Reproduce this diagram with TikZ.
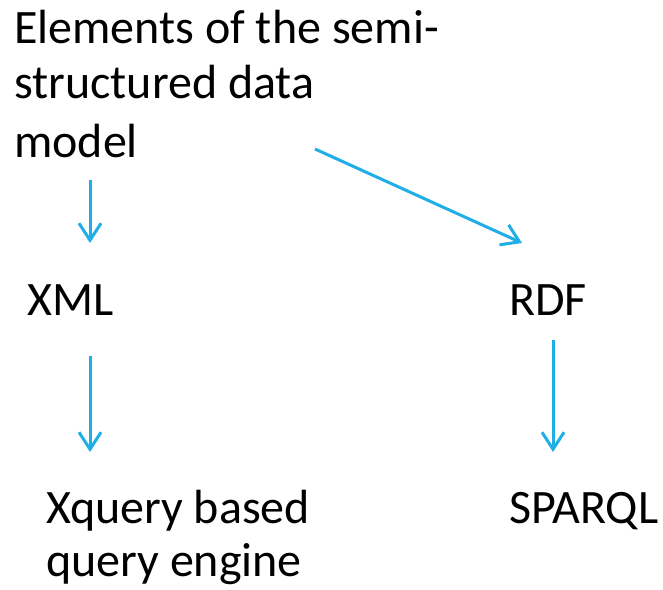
\documentclass[tikz,border=0pt]{standalone}
\usepackage{fontspec}
\setmainfont{Carlito}
\usetikzlibrary{arrows.meta}
\definecolor{arrowblue}{HTML}{1FAEE6}
\tikzset{
  lbl/.style={anchor=base west,inner sep=0pt,font=\fontsize{48}{56}\selectfont,text=black},
  conn/.style={draw=arrowblue,line width=3pt,-{Straight Barb[length=17pt,width=22pt,line width=3pt]}}
}
\begin{document}
\begin{tikzpicture}[x=1pt,y=-1pt]
\useasboundingbox[fill=white] (0,0) rectangle (663,589);
\node[lbl] (t1) at (14,43) {Elements of the semi-};
\node[lbl] (t2) at (14,98) {structured data};
\node[lbl] (t3) at (14,157) {model};
\node[lbl] (xml) at (27,315) {XML};
\node[lbl] (rdf) at (509,315) {RDF};
\node[lbl] (xq1) at (46,523) {Xquery based};
\node[lbl] (xq2) at (46,576) {query engine};
\node[lbl] (sparql) at (509,523) {SPARQL};
\coordinate (a1s) at (90,180);
\coordinate (a1e) at (90,243);
\coordinate (a2s) at (315,149);
\coordinate (a2e) at (522,243);
\coordinate (a3s) at (90,356);
\coordinate (a3e) at (90,452);
\coordinate (a4s) at (553,340);
\coordinate (a4e) at (553,452);
\draw[conn] (a1s) -- (a1e);
\draw[conn] (a2s) -- (a2e);
\draw[conn] (a3s) -- (a3e);
\draw[conn] (a4s) -- (a4e);
\end{tikzpicture}
\end{document}
